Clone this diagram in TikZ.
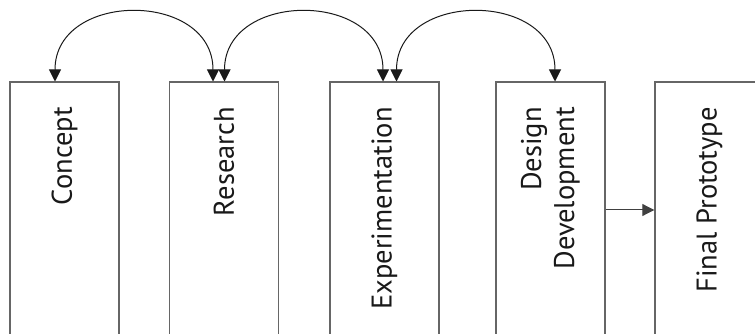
\documentclass[tikz,border=0pt]{standalone}
\usepackage{fontspec}
\setmainfont{PT Sans}
\usetikzlibrary{arrows.meta}

\begin{document}
\begin{tikzpicture}[x=1pt, y=1pt, >={Triangle[length=12pt,width=12pt]},
    stagebox/.style={draw=black!60, line width=1.4pt, minimum width=109pt, minimum height=300pt, anchor=north, inner sep=0pt},
    stagetext/.style={rotate=90, anchor=east, inner sep=0pt, align=right, text=black!90, font=\fontsize{28.5}{33}\selectfont},
    link/.style={<->, line width=1pt, black!90}]
    \clip (0,0) rectangle (755,334);
    % stages
    \node[stagebox] (concept) at (64.5,252.5) {};
    \node[stagebox] (research) at (224,252.5) {};
    \node[stagebox] (experiment) at (384.5,252.5) {};
    \node[stagebox] (design) at (550.5,252.5) {};
    \node[stagebox] (final) at (709.5,252.5) {};
    \node[stagetext] at ([yshift=-25.5pt]concept.north) {Concept};
    \node[stagetext] at ([yshift=-25.5pt]research.north) {Research};
    \node[stagetext] at ([yshift=-25.5pt]experiment.north) {Experimentation};
    \node[stagetext] at ([yshift=-25.5pt]design.north) {Design\\Development};
    \node[stagetext] at ([yshift=-25.5pt]final.north) {Final Prototype};
    % feedback loops
    \draw[link] ([xshift=-9.5pt]concept.north) .. controls +(0,91) and +(0,91) .. ([xshift=-11pt]research.north);
    \draw[link] ([xshift=0.5pt]research.north) .. controls +(0,91) and +(0,91) .. ([xshift=-1.5pt]experiment.north);
    \draw[link] ([xshift=12pt]experiment.north) .. controls +(0,91) and +(0,91) .. ([xshift=4.5pt]design.north);
    % hand over
    \draw[->, line width=1pt, black!75] (design.east |- 0,124) -- (final.west |- 0,124);
\end{tikzpicture}
\end{document}
